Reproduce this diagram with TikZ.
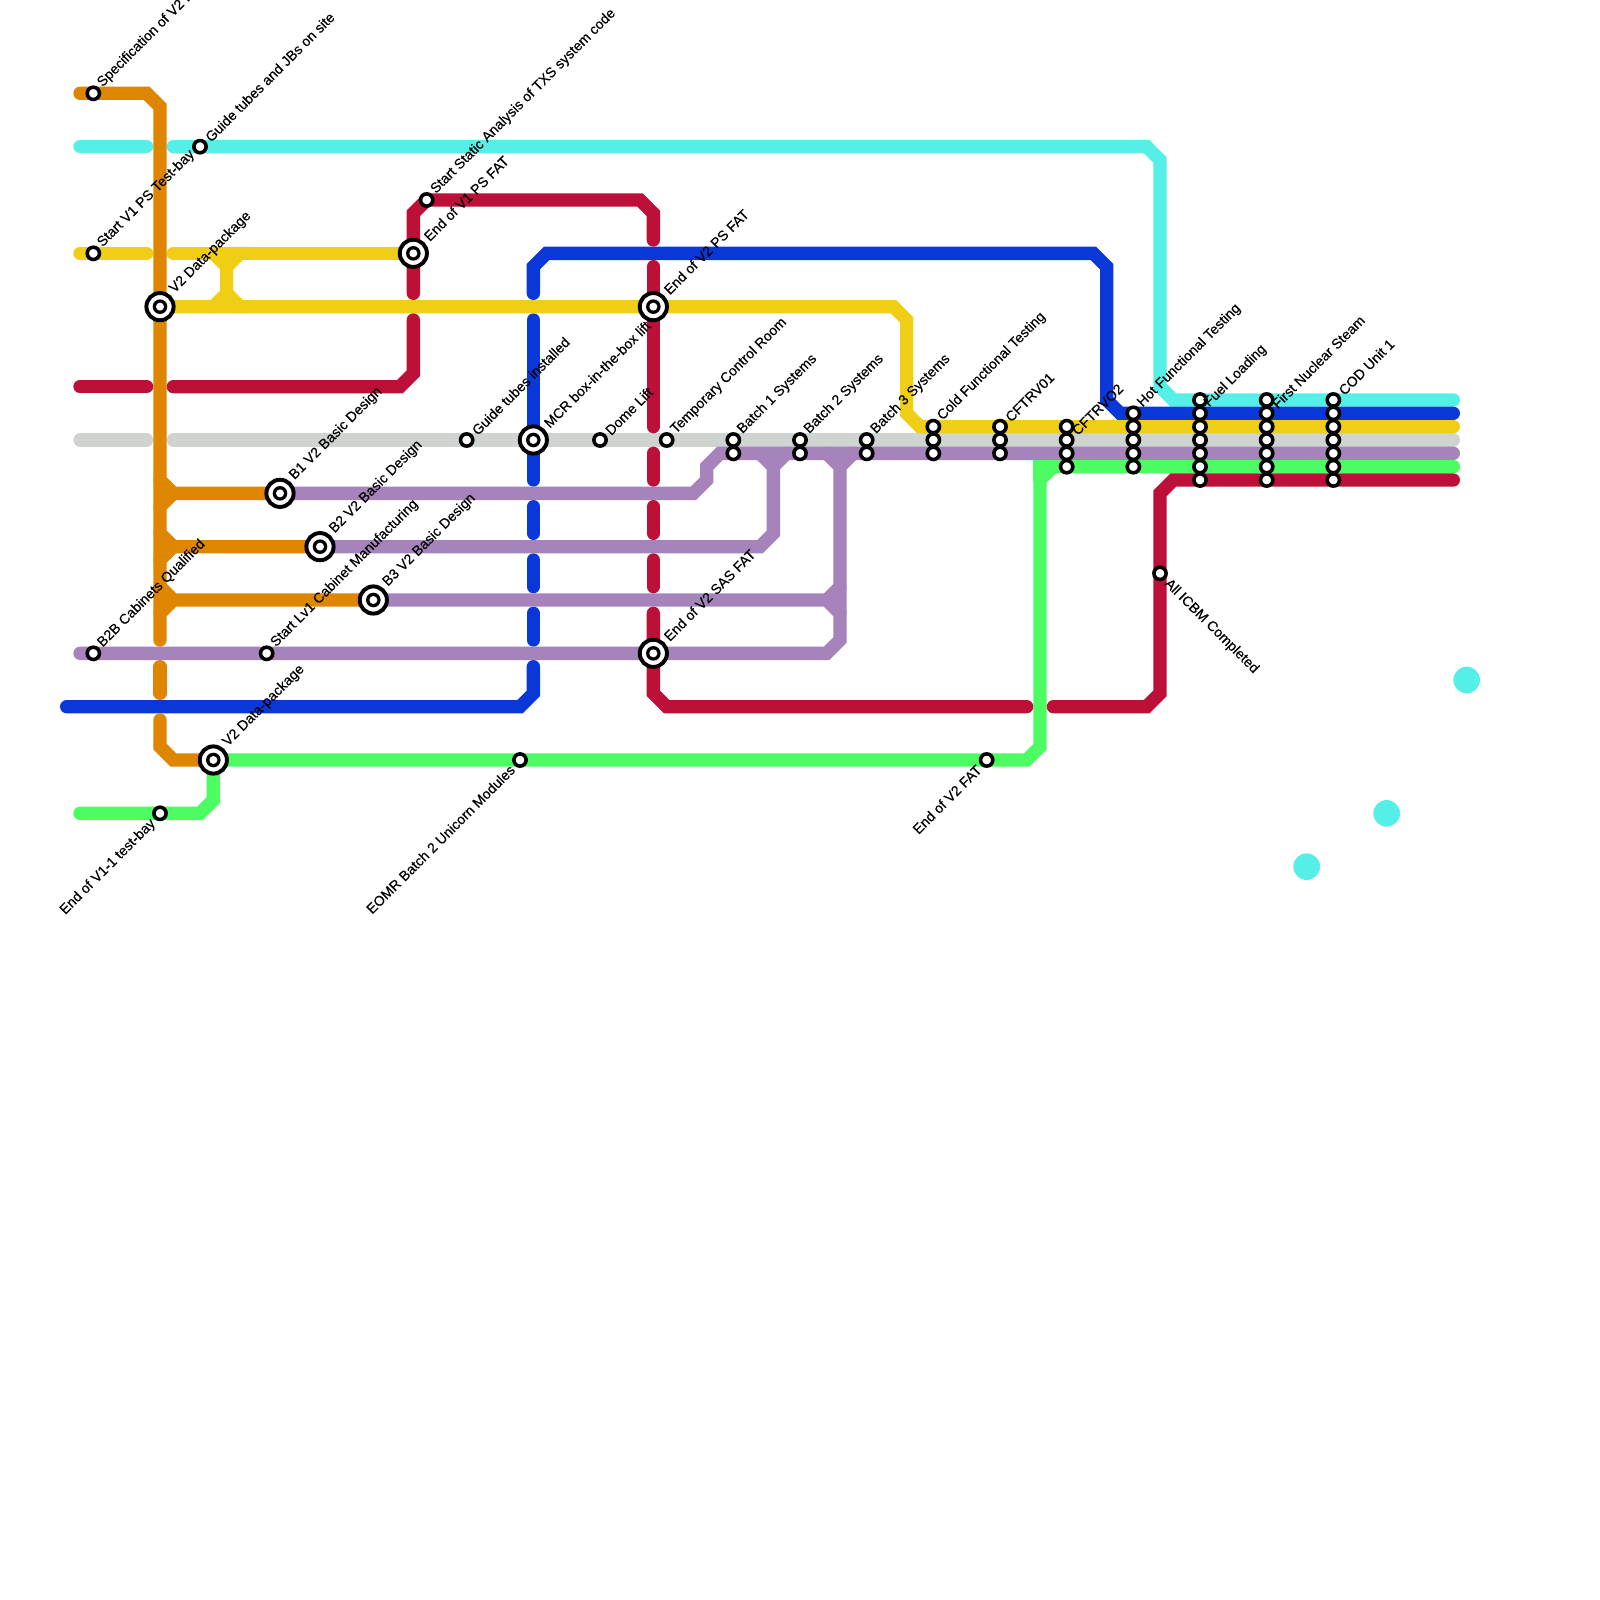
\documentclass[tikz,border=0pt]{standalone}
\usepackage{fontspec}
\setmainfont[FakeBold=0.4]{Liberation Sans}
\definecolor{cOrange}{HTML}{DF8600}
\definecolor{cCyan}{HTML}{56EFE8}
\definecolor{cYellow}{HTML}{F0CE15}
\definecolor{cRed}{HTML}{BD1038}
\definecolor{cGrey}{HTML}{CFD4D1}
\definecolor{cPurple}{HTML}{A683BA}
\definecolor{cBlue}{HTML}{0A38D8}
\definecolor{cGreen}{HTML}{4DFB62}
\tikzset{
  x=0.25cm,y=-0.25cm,
  route/.style={line width=0.25cm,line cap=round,line join=miter},
  stn/.style={circle,draw=black,fill=white,line width=1.9pt,minimum size=0.23cm,inner sep=0pt,outer sep=0pt},
  hub/.style={circle,draw=black,fill=white,line width=2.1pt,minimum size=0.51cm,inner sep=0pt,outer sep=0pt,
     path picture={\fill[black] (path picture bounding box.center) circle (0.137cm);\fill[white] (path picture bounding box.center) circle (0.075cm);}},
  lab/.style={font=\fontsize{7.5pt}{8pt}\selectfont,text=black,inner sep=0pt,rotate=45,anchor=south west},
  labl/.style={font=\fontsize{7.5pt}{8pt}\selectfont,text=black,inner sep=0pt,rotate=45,anchor=north east},
  labr/.style={font=\fontsize{7.5pt}{8pt}\selectfont,text=black,inner sep=0pt,rotate=-45,anchor=north west},
}
\begin{document}
\begin{tikzpicture}
\useasboundingbox (0,0) rectangle (120,120);
\clip (0,0) rectangle (120,120);
% cyan
\draw[route,cCyan] (6,11)--(11,11);
\draw[route,cCyan] (13,11)--(86,11)--(87,12)--(87,29)--(88,30)--(109,30);
% blue
\draw[route,cBlue] (5,53)--(39,53)--(40,52)--(40,50);
\draw[route,cBlue] (40,46)--(40,48);
\draw[route,cBlue] (40,42)--(40,44);
\draw[route,cBlue] (40,38)--(40,40);
\draw[route,cBlue] (40,24)--(40,36);
\draw[route,cBlue] (40,22)--(40,20)--(41,19)--(82,19)--(83,20)--(83,30)--(84,31)--(109,31);
% grey
\draw[route,cGrey] (6,33)--(11,33);
\draw[route,cGrey] (13,33)--(109,33);
% purple
\draw[route,cPurple] (6,49)--(62,49)--(63,48)--(63,35)--(62,34);
\draw[route,cPurple] (63,35)--(64,34);
\draw[route,cPurple] (21,37)--(52,37)--(53,36)--(53,35)--(54,34)--(109,34);
\draw[route,cPurple] (24,41)--(57,41)--(58,40)--(58,35)--(57,34);
\draw[route,cPurple] (58,35)--(59,34);
\draw[route,cPurple] (28,45)--(62,45)--(63,44);
\draw[route,cPurple] (62,45)--(63,46);
% yellow
\draw[route,cYellow] (6,19)--(11,19);
\draw[route,cYellow] (13,19)--(31,19);
\draw[route,cYellow] (16,19)--(17,20)--(17,22)--(16,23);
\draw[route,cYellow] (18,19)--(17,20);
\draw[route,cYellow] (17,22)--(18,23);
\draw[route,cYellow] (12,23)--(67,23)--(68,24)--(68,31)--(69,32)--(109,32);
% green
\draw[route,cGreen] (6,61)--(15,61)--(16,60)--(16,57);
\draw[route,cGreen] (16,57)--(77,57)--(78,56)--(78,36)--(79,35)--(109,35);
\draw[route,cGreen] (78,36)--(78,35)--(79,35);
% red
\draw[route,cRed] (6,29)--(11,29);
\draw[route,cRed] (13,29)--(30,29)--(31,28)--(31,24);
\draw[route,cRed] (31,22)--(31,16)--(32,15)--(48,15)--(49,16)--(49,18);
\draw[route,cRed] (49,20)--(49,32);
\draw[route,cRed] (49,34)--(49,36);
\draw[route,cRed] (49,38)--(49,40);
\draw[route,cRed] (49,42)--(49,44);
\draw[route,cRed] (49,46)--(49,52)--(50,53)--(77,53);
\draw[route,cRed] (79,53)--(86,53)--(87,52)--(87,37)--(88,36)--(109,36);
% orange
\draw[route,cOrange] (6,7)--(11,7)--(12,8)--(12,48);
\draw[route,cOrange] (12,50)--(12,52);
\draw[route,cOrange] (12,54)--(12,56)--(13,57)--(16,57);
\draw[route,cOrange] (12,36)--(13,37)--(21,37);
\draw[route,cOrange] (12,38)--(13,37);
\draw[route,cOrange] (12,40)--(13,41)--(24,41);
\draw[route,cOrange] (12,42)--(13,41);
\draw[route,cOrange] (12,44)--(13,45)--(28,45);
\draw[route,cOrange] (12,46)--(13,45);
% floating dots
\fill[cCyan] (110,51) circle (0.25cm);
\fill[cCyan] (104,61) circle (0.25cm);
\fill[cCyan] (98,65) circle (0.25cm);
% hubs
\node[hub] (h1) at (12,23) {};
\node[hub] (h2) at (16,57) {};
\node[hub] (h3) at (21,37) {};
\node[hub] (h4) at (24,41) {};
\node[hub] (h5) at (28,45) {};
\node[hub] (h6) at (31,19) {};
\node[hub] (h7) at (40,33) {};
\node[hub] (h8) at (49,23) {};
\node[hub] (h9) at (49,49) {};
% small stations
\foreach \n/\x/\y in {a/7/7,b/15/11,c/7/19,d/7/49,e/20/49,f/12/61,g/39/57,k/74/57,m/32/15,n/35/33,o/45/33,p/50/33,
 q1/55/33,q2/55/34,r1/60/33,r2/60/34,s1/65/33,s2/65/34,
 t1/70/32,t2/70/33,t3/70/34,u1/75/32,u2/75/33,u3/75/34,
 v1/80/32,v2/80/33,v3/80/34,v4/80/35,
 w1/85/31,w2/85/32,w3/85/33,w4/85/34,w5/85/35,
 x1/90/30,x2/90/31,x3/90/32,x4/90/33,x5/90/34,x6/90/35,x7/90/36,
 y1/95/30,y2/95/31,y3/95/32,y4/95/33,y5/95/34,y6/95/35,y7/95/36,
 z1/100/30,z2/100/31,z3/100/32,z4/100/33,z5/100/34,z6/100/35,z7/100/36,
 ic/87/43}
 {\node[stn] (\n) at (\x,\y) {};}
% labels
\node[lab] at ([shift={(0.85,-0.25)}]a) {Specification of V2 I\&C};
\node[lab] at ([shift={(0.85,-0.25)}]b) {Guide tubes and JBs on site};
\node[lab] at ([shift={(0.85,-0.25)}]c) {Start V1 PS Test-bay};
\node[lab] at ([shift={(0.85,-0.25)}]d) {B2B Cabinets Qualified};
\node[lab] at ([shift={(0.85,-0.25)}]e) {Start Lv1 Cabinet Manufacturing};
\node[lab] at ([shift={(0.85,-0.25)}]m) {Start Static Analysis of TXS system code};
\node[lab] at ([shift={(0.85,-0.25)}]n) {Guide tubes installed};
\node[lab] at ([shift={(0.85,-0.25)}]o) {Dome Lift};
\node[lab] at ([shift={(0.85,-0.25)}]p) {Temporary Control Room};
\node[lab] at ([shift={(0.85,-0.25)}]q1) {Batch 1 Systems};
\node[lab] at ([shift={(0.85,-0.25)}]r1) {Batch 2 Systems};
\node[lab] at ([shift={(0.85,-0.25)}]s1) {Batch 3 Systems};
\node[lab] at ([shift={(0.85,-0.25)}]t1) {Cold Functional Testing};
\node[lab] at ([shift={(0.85,-0.25)}]u1) {CFTRV01};
\node[lab] at ([shift={(0.85,-0.25)}]v2) {CFTRVO2};
\node[lab] at ([shift={(0.85,-0.25)}]w1) {Hot Functional Testing};
\node[lab] at ([shift={(0.85,-0.25)}]x2) {Fuel Loading};
\node[lab] at ([shift={(0.85,-0.25)}]y2) {First Nuclear Steam};
\node[lab] at ([shift={(0.85,-0.25)}]z1) {COD Unit 1};
\node[lab] at ([shift={(1.25,-0.8)}]h1) {V2 Data-package};
\node[lab] at ([shift={(1.25,-0.8)}]h2) {V2 Data-package};
\node[lab] at ([shift={(1.25,-0.8)}]h3) {B1 V2 Basic Design};
\node[lab] at ([shift={(1.25,-0.8)}]h4) {B2 V2 Basic Design};
\node[lab] at ([shift={(1.25,-0.8)}]h5) {B3 V2 Basic Design};
\node[lab] at ([shift={(1.25,-0.8)}]h6) {End of V1 PS FAT};
\node[lab] at ([shift={(1.25,-0.8)}]h7) {MCR box-in-the-box lift};
\node[lab] at ([shift={(1.25,-0.8)}]h8) {End of V2 PS FAT};
\node[lab] at ([shift={(1.25,-0.8)}]h9) {End of V2 SAS FAT};
\node[labl] at ([shift={(-0.85,0.25)}]f) {End of V1-1 test-bay};
\node[labl] at ([shift={(-0.85,0.25)}]g) {EOMR Batch 2 Unicorn Modules};
\node[labl] at ([shift={(-0.85,0.25)}]k) {End of V2 FAT};
\node[labr] at ([shift={(0.85,0.25)}]ic) {All ICBM Completed};
\end{tikzpicture}
\end{document}
